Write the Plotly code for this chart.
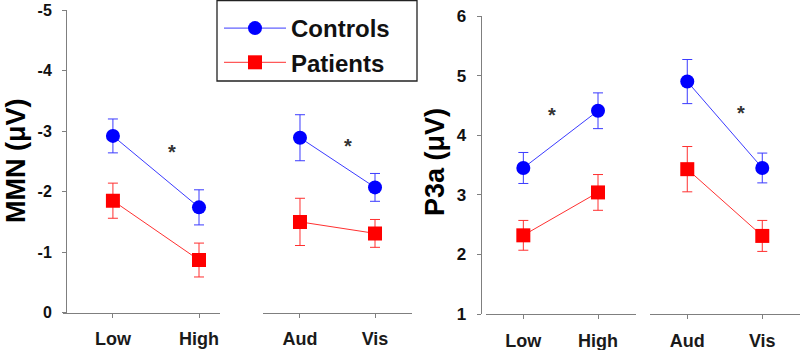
import plotly.graph_objects as go

# ---------------- data ----------------
groups_a = ["Low", "High"]
groups_b = ["Aud", "Vis"]

mmn_controls_a = [-2.92, -1.74]
mmn_controls_a_err = [0.28, 0.29]
mmn_patients_a = [-1.85, -0.87]
mmn_patients_a_err = [0.29, 0.28]
mmn_controls_b = [-2.89, -2.07]
mmn_controls_b_err = [0.38, 0.23]
mmn_patients_b = [-1.50, -1.31]
mmn_patients_b_err = [0.39, 0.23]

p3a_controls_a = [3.45, 4.41]
p3a_controls_a_err = [0.26, 0.30]
p3a_patients_a = [2.32, 3.04]
p3a_patients_a_err = [0.25, 0.30]
p3a_controls_b = [4.90, 3.45]
p3a_controls_b_err = [0.37, 0.25]
p3a_patients_b = [3.43, 2.31]
p3a_patients_b_err = [0.38, 0.26]

mmn_ticks = [0, -1, -2, -3, -4, -5]
p3a_ticks = [1, 2, 3, 4, 5, 6]

# significance stars: (axis, x position, y value)
stars = [("x", 0.69, -2.74), ("x2", 0.64, -2.84), ("x3", 0.39, 4.42), ("x4", 0.72, 4.45)]

# ---------------- style ----------------
W, H = 800, 350
BLUE_M, BLUE_L = "#0000FF", "#3B3BFF"
RED_M, RED_L = "#FF0000", "#FF3030"
AX = "#7F7F7F"
FONT = "Liberation Sans"

fig = go.Figure()

def add(xax, yax, xs, ys, err, name, mcol, lcol, symbol, show):
    fig.add_trace(go.Scatter(
        x=list(range(len(xs))), y=ys, xaxis=xax, yaxis=yax,
        mode="lines+markers", name=name, showlegend=show, legendgroup=name,
        line=dict(color=lcol, width=1),
        marker=dict(color=mcol, size=14, symbol=symbol, line=dict(width=0)),
        error_y=dict(type="data", array=err, color=lcol, thickness=1, width=5),
    ))

add("x", "y", groups_a, mmn_controls_a, mmn_controls_a_err, "Controls", BLUE_M, BLUE_L, "circle", True)
add("x", "y", groups_a, mmn_patients_a, mmn_patients_a_err, "Patients", RED_M, RED_L, "square", True)
add("x2", "y", groups_b, mmn_controls_b, mmn_controls_b_err, "Controls", BLUE_M, BLUE_L, "circle", False)
add("x2", "y", groups_b, mmn_patients_b, mmn_patients_b_err, "Patients", RED_M, RED_L, "square", False)
add("x3", "y2", groups_a, p3a_controls_a, p3a_controls_a_err, "Controls", BLUE_M, BLUE_L, "circle", False)
add("x3", "y2", groups_a, p3a_patients_a, p3a_patients_a_err, "Patients", RED_M, RED_L, "square", False)
add("x4", "y2", groups_b, p3a_controls_b, p3a_controls_b_err, "Controls", BLUE_M, BLUE_L, "circle", False)
add("x4", "y2", groups_b, p3a_patients_b, p3a_patients_b_err, "Patients", RED_M, RED_L, "square", False)

def xax(px0, px1, rng, labels, anchor):
    return dict(domain=[px0 / W, px1 / W], range=rng, anchor=anchor, automargin=False,
                tickvals=list(range(len(labels))), ticktext=labels,
                showline=True, linecolor=AX, linewidth=1, ticks="outside",
                ticklen=4, tickcolor=AX, showgrid=False, zeroline=False,
                ticklabelstandoff=6,
                tickfont=dict(family=FONT, size=18, color="#1a1a1a", weight="bold"))

def yax(py_top, py_bot, rng, ticks, pos, size):
    return dict(domain=[1 - py_bot / H, 1 - py_top / H], range=rng, automargin=False,
                anchor="free", position=pos / W, tickvals=ticks,
                ticktext=[str(t) for t in ticks],
                showline=True, linecolor=AX, linewidth=1, ticks="outside",
                ticklen=4, tickcolor=AX, showgrid=False, zeroline=False,
                ticklabelstandoff=7,
                tickfont=dict(family=FONT, size=size, color="#111", weight="bold"))

fig.update_layout(
    width=W, height=H, margin=dict(l=0, r=0, t=0, b=0, autoexpand=False),
    paper_bgcolor="white", plot_bgcolor="white",
    xaxis=xax(63, 220, [-0.58, 1.244], groups_a, "y"),
    xaxis2=xax(263, 412, [-0.493, 1.493], groups_b, "y"),
    xaxis3=xax(486, 636, [-0.5, 1.509], groups_a, "y2"),
    xaxis4=xax(650, 800, [-0.497, 1.503], groups_b, "y2"),
    yaxis=yax(10, 312.7, [0, -5], mmn_ticks, 66, 16),
    yaxis2=yax(16, 314, [1, 6], p3a_ticks, 480.7, 17),
    legend=dict(x=219 / W, y=1 - 6 / H, xanchor="left", yanchor="top",
                bgcolor="rgba(0,0,0,0)", borderwidth=0,
                itemwidth=62, tracegroupgap=0,
                font=dict(family=FONT, size=24, color="#111", weight="bold")),
    shapes=[dict(type="rect", xref="paper", yref="paper",
                 x0=217 / W, x1=417 / W, y0=1 - 81 / H, y1=1 - 0.7 / H,
                 line=dict(color="#222", width=1.3), fillcolor="rgba(0,0,0,0)")],
)

ymap = {"x": "y", "x2": "y", "x3": "y2", "x4": "y2"}
for ax, sx, sy in stars:
    fig.add_annotation(x=sx, y=sy, xref=ax, yref=ymap[ax], text="*", showarrow=False,
                       yshift=-5, font=dict(family=FONT, size=20, color="#333", weight="bold"))

fig.add_annotation(x=16 / W, y=1 - 161 / H, xref="paper", yref="paper", text="MMN (μV)",
                   textangle=-90, showarrow=False, xanchor="center", yanchor="middle",
                   font=dict(family=FONT, size=27, color="#000", weight="bold"))
fig.add_annotation(x=435 / W, y=1 - 162 / H, xref="paper", yref="paper", text="P3a (μV)",
                   textangle=-90, showarrow=False, xanchor="center", yanchor="middle",
                   font=dict(family=FONT, size=27, color="#000", weight="bold"))

fig.write_html("out.html", config={"displayModeBar": False},
               post_script="document.body.style.margin='0';document.body.style.overflow='hidden';")
